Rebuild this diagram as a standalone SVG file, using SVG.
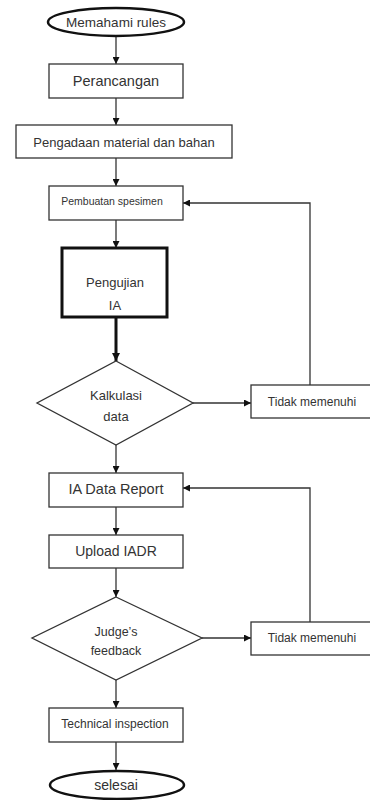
<svg xmlns="http://www.w3.org/2000/svg" width="370" height="800" viewBox="0 0 370 800">
<defs>
<marker id="ah" viewBox="0 0 10 10" refX="10" refY="5" markerWidth="7" markerHeight="7" markerUnits="userSpaceOnUse" orient="auto">
<path d="M0,0 L10,5 L0,10 Z" fill="#111"/>
</marker>
<marker id="ahb" viewBox="0 0 10 10" refX="10" refY="5" markerWidth="8" markerHeight="8" markerUnits="userSpaceOnUse" orient="auto">
<path d="M0,0 L10,5 L0,10 Z" fill="#111"/>
</marker>
</defs>
<style>
.box{fill:#fff;stroke:#333;stroke-width:1.3}
.thick{fill:#fff;stroke:#111;stroke-width:3}
.term{fill:#fff;stroke:#111;stroke-width:2.5}
.t{font-family:"Liberation Sans",Arial,sans-serif;fill:#333;text-anchor:middle;dominant-baseline:central}
.c{fill:none;stroke:#333;stroke-width:1.3}
.cb{fill:none;stroke:#111;stroke-width:3}
</style>
<rect width="370" height="800" fill="#fff"/>
<g id="connectors">
<path class="c" d="M116,37 V64" marker-end="url(#ah)"/>
<path class="c" d="M116,98 V125" marker-end="url(#ah)"/>
<path class="c" d="M116,158 V186" marker-end="url(#ah)"/>
<path class="c" d="M116,220 V248" marker-end="url(#ah)"/>
<path class="cb" d="M116,317 V361" marker-end="url(#ahb)"/>
<path class="c" d="M193,403 H251" marker-end="url(#ah)"/>
<path class="c" d="M310,385 V203 H183" marker-end="url(#ah)"/>
<path class="c" d="M116,445 V473" marker-end="url(#ah)"/>
<path class="c" d="M116,507 V535" marker-end="url(#ah)"/>
<path class="c" d="M116,568 V597" marker-end="url(#ah)"/>
<path class="c" d="M202,638 H251" marker-end="url(#ah)"/>
<path class="c" d="M310,622 V488 H183" marker-end="url(#ah)"/>
<path class="c" d="M116,680 V708" marker-end="url(#ah)"/>
<path class="c" d="M116,742 V770" marker-end="url(#ah)"/>
</g>
<g id="start">
<ellipse class="term" cx="116" cy="22" rx="68" ry="14"/>
<text class="t" x="116" y="22" font-size="13.5">Memahami rules</text>
</g>
<g id="perancangan">
<rect class="box" x="49" y="64" width="134" height="34"/>
<text class="t" x="116" y="81" font-size="14.5">Perancangan</text>
</g>
<g id="pengadaan">
<rect class="box" x="16" y="125" width="216" height="33"/>
<text class="t" x="124" y="142" font-size="13">Pengadaan material dan bahan</text>
</g>
<g id="pembuatan">
<rect class="box" x="49" y="186" width="134" height="34"/>
<text class="t" x="112" y="201" font-size="10.5">Pembuatan spesimen</text>
</g>
<g id="pengujian">
<rect class="thick" x="62" y="248" width="105" height="69"/>
<text class="t" x="115" y="282" font-size="13">Pengujian</text>
<text class="t" x="115" y="305" font-size="13">IA</text>
</g>
<g id="kalkulasi">
<path class="box" d="M116,361 L193,403 L116,445 L37,403 Z"/>
<text class="t" x="116" y="395" font-size="13">Kalkulasi</text>
<text class="t" x="116" y="416" font-size="13">data</text>
</g>
<g id="tidak1">
<rect class="box" x="251" y="385" width="125" height="33"/>
<text class="t" x="312" y="402" font-size="12">Tidak memenuhi</text>
</g>
<g id="iadr">
<rect class="box" x="49" y="473" width="134" height="34"/>
<text class="t" x="116" y="489" font-size="14.5">IA Data Report</text>
</g>
<g id="upload">
<rect class="box" x="49" y="535" width="134" height="33"/>
<text class="t" x="116" y="551" font-size="14">Upload IADR</text>
</g>
<g id="judge">
<path class="box" d="M116,597 L202,638 L116,680 L32,638 Z"/>
<text class="t" x="116" y="632" font-size="12.5">Judge’s</text>
<text class="t" x="116" y="651" font-size="12.5">feedback</text>
</g>
<g id="tidak2">
<rect class="box" x="251" y="622" width="125" height="33"/>
<text class="t" x="312" y="638" font-size="12">Tidak memenuhi</text>
</g>
<g id="technical">
<rect class="box" x="49" y="708" width="134" height="34"/>
<text class="t" x="115" y="724" font-size="12">Technical inspection</text>
</g>
<g id="end">
<ellipse class="term" cx="117" cy="785" rx="67" ry="14"/>
<text class="t" x="116" y="785" font-size="14">selesai</text>
</g>
</svg>
